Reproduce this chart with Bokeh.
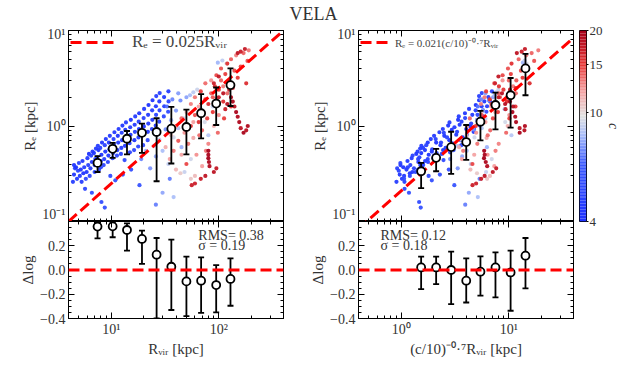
import numpy as np
from bokeh.plotting import figure
from bokeh.models import (LogAxis, LinearAxis, FixedTicker, LogColorMapper, Span,
                          Legend, LegendItem, ColumnDataSource, CustomJSTickFormatter)
from bokeh.layouts import column, row
from bokeh.embed import file_html
from bokeh.resources import INLINE
from bokeh.core.properties import value

FONT = "Liberation Serif"
TXT = "#333333"

# ---------------- data ----------------
# scatter points: (R_vir [kpc], R_e [kpc], concentration c)
blue_pts = [
    (4.4,0.26,4.6),(4.5,0.31,4.3),(4.6,0.36,4.8),(4.5,0.39,4.2),
    (4.8,0.28,4.4),(4.9,0.34,5.0),(4.7,0.37,4.1),
    (5.1,0.30,4.5),(5.2,0.35,4.3),(5.0,0.41,4.9),(5.3,0.26,4.7),
    (5.5,0.32,4.2),(5.6,0.37,4.6),(5.4,0.43,4.4),(5.7,0.22,5.2),
    (5.9,0.33,4.3),(6.1,0.39,4.8),(6.0,0.46,4.5),(6.2,0.51,4.1),(5.8,0.28,5.4),
    (6.4,0.36,4.6),(6.6,0.42,4.2),(6.5,0.49,4.9),(6.7,0.54,4.4),(6.3,0.30,5.1),(6.6,0.20,5.6),
    (7.0,0.39,4.3),(7.1,0.45,4.7),(6.9,0.52,4.1),(7.2,0.58,4.5),(7.0,0.33,5.0),
    (7.5,0.40,4.4),(7.4,0.47,4.8),(7.6,0.56,4.2),(7.5,0.62,4.6),(7.7,0.35,5.3),
    (8.0,0.43,4.5),(8.1,0.50,4.1),(7.9,0.59,4.7),(8.2,0.67,4.3),(8.0,0.37,5.0),(8.1,0.16,5.5),
    (8.6,0.45,4.6),(8.8,0.54,4.2),(8.7,0.63,4.9),(8.9,0.73,4.4),(8.5,0.39,5.2),(8.7,0.14,5.8),
    (9.4,0.49,4.3),(9.6,0.57,4.7),(9.5,0.67,4.1),(9.7,0.79,4.5),(9.3,0.42,5.1),(9.8,0.30,5.4),
    (10.4,0.52,4.6),(10.6,0.63,4.2),(10.5,0.73,4.8),(10.7,0.86,4.4),(10.3,0.46,5.0),(10.9,0.27,5.7),
    (11.4,0.56,4.3),(11.6,0.67,4.7),(11.5,0.79,4.2),(11.7,0.93,4.5),(11.3,0.49,5.2),
    (12.4,0.59,4.5),(12.6,0.71,4.1),(12.5,0.85,4.8),(12.7,1.01,4.3),(12.3,0.51,5.0),(12.8,0.31,5.6),
    (13.4,0.62,4.4),(13.6,0.76,4.9),(13.5,0.91,4.2),(13.7,1.09,4.6),(13.3,0.44,5.3),
    (14.8,0.66,4.7),(15.1,0.81,4.3),(15.0,0.97,4.5),(15.2,1.16,4.1),(14.9,0.53,5.1),(15.3,0.35,5.5),
    (16.4,0.71,4.2),(16.6,0.87,4.8),(16.5,1.03,4.4),(16.7,1.26,4.6),(16.3,0.56,5.2),
    (17.9,0.76,4.5),(18.1,0.93,4.1),(18.0,1.11,4.7),(18.2,1.36,4.3),(17.8,0.61,5.0),(18.3,0.24,6.0),
    (19.9,0.81,4.6),(20.1,0.99,4.2),(20.0,1.21,4.9),(20.2,1.51,4.4),(19.8,0.63,5.4),
    (21.9,0.87,4.3),(22.1,1.06,4.7),(22.0,1.31,4.5),(22.2,1.66,4.1),(21.8,0.71,5.3),
    (23.9,0.93,4.8),(24.1,1.16,4.4),(24.0,1.46,4.6),(24.2,1.86,4.2),
    (25.9,1.01,4.5),(26.1,1.31,4.9),(26.0,1.61,4.3),(26.2,2.06,4.7),
    (27.9,1.11,5.0),(28.1,1.46,4.6),(28.0,1.81,4.4),(28.2,2.21,4.8),
    (30.8,1.26,5.2),(31.1,1.61,4.7),(31.0,2.01,4.5),
    (33.8,1.41,5.4),(34.1,1.81,4.9),(34.0,2.31,4.6),
]
lightblue_pts = [
    (19,0.45,7.2),(21,0.55,8.0),(23,0.36,7.5),(25,0.62,8.6),(26,0.48,7.8),(28,0.72,9.0),
    (30,0.55,8.3),(32,0.92,7.4),(34,0.40,8.8),(36,1.15,7.9),(38,0.76,9.2),(40,1.45,7.6),
    (42,0.95,8.5),(44,1.85,7.3),(47,1.20,8.9),(50,2.00,7.7),(54,2.10,8.2),(58,2.25,8.7),
    (63,2.40,9.1),(68,1.50,8.4),(74,1.10,9.3),(80,0.80,8.6),(88,1.60,9.0),(98,4.60,8.1),
    (108,4.85,8.8),(118,4.50,9.4),(35,0.28,7.0),(30,0.20,7.8),(38,0.18,8.3),(26,0.15,7.1),
    (45,0.60,8.0),(55,0.45,9.2),(33,1.60,6.8),(37,1.90,7.2),(42,2.20,7.6),(48,0.33,9.0),
]
red_pts = [
    (32,0.60,11.5),(35,0.45,12.0),(36,0.80,10.8),(38,0.55,13.0),(40,0.35,11.2),(40,1.00,12.5),
    (42,0.70,14.0),(45,0.50,11.8),(45,1.20,13.5),(48,0.85,12.2),(50,0.40,14.5),(50,1.40,11.0),
    (52,0.65,13.2),(55,1.00,15.0),(55,1.70,12.8),(58,0.75,11.6),(60,1.30,14.2),(60,2.00,13.0),
    (62,0.50,12.4),(65,1.10,15.5),(65,1.60,11.9),(68,2.30,14.8),(70,0.90,13.6),(72,1.40,12.1),
    (75,1.90,15.2),(75,2.80,13.3),(78,1.20,14.6),(80,0.65,12.7),(80,1.70,15.8),(85,2.20,13.9),
    (85,3.00,12.3),(88,1.40,14.9),(90,1.00,11.4),(92,2.60,15.4),(95,1.90,13.1),(95,3.40,14.4),
    (100,1.30,12.6),(100,2.40,15.1),(105,3.00,13.7),(105,4.00,14.1),(110,1.80,15.6),(110,2.60,12.9),
    (115,3.50,14.7),(120,2.20,13.4),(120,4.50,15.3),(125,3.00,14.0),(130,5.00,13.8),(135,2.50,15.9),
    (140,3.80,14.3),(145,5.50,12.8),(150,3.20,15.0),(160,4.20,14.5),(170,5.80,13.6),(180,2.80,15.7),
    (185,4.80,14.2),(190,6.20,13.0),(60,0.30,11.0),(70,0.38,12.0),(55,0.28,10.6),(44,0.32,10.5),
    (66,0.80,13.5),(88,2.00,14.0),(130,1.60,15.2),(112,1.20,14.8),(76,0.55,13.0),(58,1.10,12.0),
    (98,0.85,13.5),
]
darkred_pts = [
    (130,2.00,18.5),(135,1.80,19.0),(140,1.60,18.2),(145,1.40,19.5),(150,1.25,18.8),(155,1.10,19.2),
    (160,0.95,18.0),(170,0.85,19.6),(180,0.90,18.4),(186,1.00,19.0),
    (80,0.55,19.8),(80,0.50,19.5),(80,0.46,19.9),(81,0.42,19.2),(82,0.38,18.7),(90,0.33,18.0),
    (95,0.36,17.5),(75,0.30,17.8),(68,0.28,17.2),(60,0.25,16.8),(56,0.24,17.0),
    (100,2.00,17.5),(110,2.20,18.1),(115,1.50,17.3),(120,1.70,18.6),(125,2.40,17.0),(90,2.80,16.8),
    (100,3.30,17.6),(160,6.00,16.9),(175,6.40,17.4),(150,5.80,17.9),
]

# binned medians, left panel (R_vir)
l_bin_x = [7.45, 10.3, 14.0, 19.3, 26.4, 36.2, 50.0, 68.5, 94.6, 128.5]
l_med = [0.411, 0.577, 0.735, 0.849, 0.865, 0.937, 0.976, 1.36, 1.717, 2.68]
l_lo = [0.330, 0.464, 0.504, 0.524, 0.264, 0.405, 0.504, 0.743, 1.024, 1.62]
l_hi = [0.483, 0.667, 0.886, 1.057, 1.205, 1.585, 1.485, 2.157, 2.53, 4.01]
l_res = [0.358, 0.36, 0.33, 0.256, 0.126, 0.027, -0.094, -0.088, -0.124, -0.074]
l_res_lo = [0.261, 0.27, 0.16, 0.05, -0.40, -0.33, -0.38, -0.353, -0.35, -0.295]
l_res_hi = [0.393, 0.39, 0.385, 0.325, 0.264, 0.25, 0.11, 0.104, 0.041, 0.096]

# binned medians, right panel ((c/10)^-0.7 R_vir)
r_bin_x = [1.53, 2.11, 2.91, 4.02, 5.45, 7.52, 10.4, 14.3]
r_med = [0.336, 0.464, 0.601, 0.679, 1.11, 1.66, 2.10, 4.01]
r_lo = [0.224, 0.336, 0.315, 0.442, 0.707, 0.923, 0.96, 2.10]
r_hi = [0.411, 0.577, 0.871, 1.024, 1.44, 2.24, 3.18, 5.69]
r_res = [0.021, 0.021, 0.0, -0.088, -0.014, 0.021, -0.02, 0.118]
r_res_lo = [-0.157, -0.116, -0.281, -0.268, -0.212, -0.226, -0.336, -0.152]
r_res_hi = [0.11, 0.11, 0.151, 0.096, 0.112, 0.146, 0.16, 0.264]

left_coef = 0.025    # R_e = 0.025 R_vir
right_coef = 0.21    # line drawn in the right panel
scale_k = left_coef / right_coef
c_norm, c_slope = 10.0, -0.7

stats_left = ["RMS= 0.38", "\u03c3 = 0.19"]
stats_right = ["RMS= 0.12", "\u03c3 = 0.18"]
cbar_ticks = [4, 10, 15, 20]
c_low, c_high = 4, 20

# tick positions
x_left_major = [10, 100]
x_left_minor = [4, 5, 6, 7, 8, 9, 20, 30, 40, 50, 60, 70, 80, 90, 200, 300, 400]
x_right_major = [1, 10]
x_right_minor = [0.4, 0.5, 0.6, 0.7, 0.8, 0.9, 2, 3, 4, 5, 6, 7, 8, 9, 20, 30, 40]
y_log_major = [0.1, 1, 10]
y_log_minor = [0.2, 0.3, 0.4, 0.5, 0.6, 0.7, 0.8, 0.9, 2, 3, 4, 5, 6, 7, 8, 9]
res_major = [-0.4, -0.2, 0.0, 0.2, 0.4]
res_minor = [-0.35, -0.3, -0.25, -0.15, -0.1, -0.05, 0.05, 0.1, 0.15, 0.25, 0.3, 0.35]

# ---------------- colour map ----------------
anchors = [(0.0, (30, 50, 255)), (0.3, (60, 90, 255)), (0.45, (170, 190, 250)),
           (0.55, (226, 226, 226)), (0.68, (245, 160, 160)), (0.82, (232, 55, 55)),
           (1.0, (165, 0, 25))]
palette = []
for i in range(256):
    t = i / 255
    for (t0, c0), (t1, c1) in zip(anchors[:-1], anchors[1:]):
        if t0 <= t <= t1:
            f = (t - t0) / (t1 - t0)
            rgb = [int(round(a + (b - a) * f)) for a, b in zip(c0, c1)]
            palette.append("#%02x%02x%02x" % tuple(rgb))
            break
mapper = LogColorMapper(palette=palette, low=c_low, high=c_high)

all_pts = blue_pts + lightblue_pts + red_pts + darkred_pts
sc_rvir = [p[0] for p in all_pts]
sc_re = [p[1] for p in all_pts]
sc_c = [p[2] for p in all_pts]
sc_scaled = [r * scale_k * (c / c_norm) ** c_slope for r, c in zip(sc_rvir, sc_c)]
src = ColumnDataSource(dict(rvir=sc_rvir, re=sc_re, c=sc_c, xs=sc_scaled))

log_fmt = CustomJSTickFormatter(code="""
const e = Math.round(Math.log10(tick));
const m = {'-':'\u207b','0':'\u2070','1':'\u00b9','2':'\u00b2','3':'\u00b3'};
return '10' + String(e).split('').map(ch => m[ch]).join('');
""")
lin_fmt = CustomJSTickFormatter(code="""
if (tick > 0.3) { return ''; }
const s = Math.abs(tick).toFixed(1);
return (tick < -1e-9 ? '\u2212' : '') + s;
""")


def blank_fmt():
    return CustomJSTickFormatter(code="return '';")


def style_axis(ax, labels=True):
    ax.axis_line_color = "black"
    ax.major_tick_in = 6
    ax.major_tick_out = 0
    ax.minor_tick_in = 3
    ax.minor_tick_out = 0
    ax.major_tick_line_color = "black"
    ax.minor_tick_line_color = "black"
    ax.major_label_text_font = FONT
    ax.major_label_text_color = TXT
    ax.axis_label_text_font = FONT
    ax.axis_label_text_font_style = "normal"
    ax.axis_label_text_font_size = "15px"
    ax.axis_label_text_color = TXT
    ax.axis_label_standoff = 1
    if labels:
        ax.major_label_text_font_size = "14px"
        ax.major_label_standoff = 3
    else:
        ax.formatter = blank_fmt()
        ax.major_label_text_font_size = "1px"
        ax.major_label_standoff = 0


def base_fig(fw, fh, xr, yr, ylog, bl, br, bt, bb):
    p = figure(frame_width=fw, frame_height=fh, x_axis_type="log",
               y_axis_type="log" if ylog else "linear",
               x_range=xr, y_range=yr, output_backend="svg", toolbar_location=None,
               min_border_left=bl, min_border_right=br, min_border_top=bt, min_border_bottom=bb)
    p.grid.visible = False
    p.outline_line_color = "black"
    p.outline_line_width = 1
    p.background_fill_color = "white"
    p.border_fill_color = "white"
    return p


def draw_errs(p, xs, ys, lo, hi):
    p.segment(x0=xs, y0=lo, x1=xs, y1=hi, line_color="black", line_width=1.8)
    p.scatter(x=xs + xs, y=lo + hi, marker="dash", size=6, line_color="black", line_width=1.8)
    p.scatter(x=xs, y=ys, marker="circle", size=8, fill_color="white",
              line_color="black", line_width=1.8)


def setup_panel(p, xmaj, xmin, ymaj, ymin, ylog, xlabel, ylabel):
    ax = p.below[0]
    ay = p.left[0]
    ax.ticker = FixedTicker(ticks=xmaj, minor_ticks=xmin)
    style_axis(ax, labels=xlabel is not None)
    if xlabel is not None:
        ax.formatter = log_fmt
        ax.axis_label = xlabel
    ay.ticker = FixedTicker(ticks=ymaj, minor_ticks=ymin)
    style_axis(ay)
    ay.formatter = log_fmt if ylog else lin_fmt
    ay.axis_label = ylabel
    top = LogAxis(ticker=FixedTicker(ticks=xmaj, minor_ticks=xmin))
    style_axis(top, labels=False)
    p.add_layout(top, "above")
    right = (LogAxis if ylog else LinearAxis)(ticker=FixedTicker(ticks=ymaj, minor_ticks=ymin))
    style_axis(right, labels=False)
    p.add_layout(right, "right")


FW, FH_TOP, FH_BOT = 215, 191, 97
TH = 26
BT, BB = 4, 38
RE_LABEL = "R\u2091 [kpc]"
DL_LABEL = "\u0394log"
PT_SIZE, PT_ALPHA = 4.2, 0.95

# ---------------- top-left ----------------
p1 = base_fig(FW, FH_TOP, (4, 400), (0.1, 10), True, 68, 15, BT, 0)
setup_panel(p1, x_left_major, x_left_minor, y_log_major, y_log_minor, True, None, RE_LABEL)
p1.scatter(x="rvir", y="re", source=src, size=PT_SIZE, line_color=None, fill_alpha=PT_ALPHA,
           fill_color={"field": "c", "transform": mapper})
lx = [4, 400]
l1 = p1.line(x=lx, y=[left_coef * v for v in lx], line_color="red", line_width=3, line_dash="11 5")
draw_errs(p1, l_bin_x, l_med, l_lo, l_hi)
leg1 = Legend(items=[LegendItem(label="R\u2091 = 0.025R\u1d65\u1d62\u1d63", renderers=[l1])],
              location="top_left", border_line_color=None, background_fill_alpha=0,
              label_text_font=FONT, label_text_font_size="17px", glyph_width=46,
              label_standoff=16, margin=2, padding=10)
p1.add_layout(leg1)

# ---------------- bottom-left ----------------
p2 = base_fig(FW, FH_BOT, (4, 400), (-0.4, 0.4), False, 68, 15, 0, BB)
setup_panel(p2, x_left_major, x_left_minor, res_major, res_minor, False,
            "R\u1d65\u1d62\u1d63 [kpc]", DL_LABEL)
p2.add_layout(Span(location=0, dimension="width", line_color="red", line_width=3, line_dash="11 5"))
draw_errs(p2, l_bin_x, l_res, l_res_lo, l_res_hi)
p2.text(x=[64.5, 64.5], y=[0.285, 0.205], text=stats_left, text_font=value(FONT),
        text_font_size="14px", text_color=TXT, text_baseline="middle", text_align="left")

# ---------------- top-right ----------------
p3 = base_fig(FW, FH_TOP, (0.4, 40), (0.1, 10), True, 60, 6, BT, 0)
setup_panel(p3, x_right_major, x_right_minor, y_log_major, y_log_minor, True, None, RE_LABEL)
p3.scatter(x="xs", y="re", source=src, size=PT_SIZE, line_color=None, fill_alpha=PT_ALPHA,
           fill_color={"field": "c", "transform": mapper})
rx = [0.4, 40]
l3 = p3.line(x=rx, y=[right_coef * v for v in rx], line_color="red", line_width=3, line_dash="11 5")
draw_errs(p3, r_bin_x, r_med, r_lo, r_hi)
leg3 = Legend(items=[LegendItem(label="R\u2091 = 0.021(c/10)\u207b\u2070\u00b7\u2077R\u1d65\u1d62\u1d63",
                                renderers=[l3])],
              location="top_left", border_line_color=None, background_fill_alpha=0,
              label_text_font=FONT, label_text_font_size="11px", glyph_width=30,
              label_standoff=5, margin=2, padding=8)
p3.add_layout(leg3)

# ---------------- bottom-right ----------------
p4 = base_fig(FW, FH_BOT, (0.4, 40), (-0.4, 0.4), False, 60, 6, 0, BB)
setup_panel(p4, x_right_major, x_right_minor, res_major, res_minor, False,
            "(c/10)\u207b\u2070\u00b7\u2077R\u1d65\u1d62\u1d63 [kpc]", DL_LABEL)
p4.add_layout(Span(location=0, dimension="width", line_color="red", line_width=3, line_dash="11 5"))
draw_errs(p4, r_bin_x, r_res, r_res_lo, r_res_hi)
p4.text(x=[0.64, 0.64], y=[0.285, 0.205], text=stats_right, text_font=value(FONT),
        text_font_size="14px", text_color=TXT, text_baseline="middle", text_align="left")

# ---------------- colour bar (its own narrow figure) ----------------
pc = figure(frame_width=7, frame_height=FH_TOP, x_range=(0, 1), y_range=(c_low, c_high),
            y_axis_type="log", y_axis_location="right", output_backend="svg",
            toolbar_location=None, min_border_left=0, min_border_right=0,
            min_border_top=TH + BT, min_border_bottom=FH_BOT + BB)
pc.grid.visible = False
pc.xaxis.visible = False
pc.outline_line_color = "black"
pc.border_fill_color = "white"
n_steps = 128
edges = [c_low * (c_high / c_low) ** (i / n_steps) for i in range(n_steps + 1)]
pc.quad(left=0, right=1, bottom=edges[:-1], top=edges[1:],
        fill_color=[palette[min(255, int(255 * i / (n_steps - 1)))] for i in range(n_steps)],
        line_color=None)
cax = pc.right[0]
cax.ticker = FixedTicker(ticks=cbar_ticks, minor_ticks=[])
cax.formatter = CustomJSTickFormatter(code="return String(Math.round(tick));")
cax.axis_line_color = None
cax.major_tick_in = 0
cax.major_tick_out = 2
cax.major_tick_line_color = "black"
cax.minor_tick_line_color = None
cax.major_label_standoff = 1
cax.major_label_text_font = FONT
cax.major_label_text_font_size = "13px"
cax.major_label_text_color = TXT
cax.axis_label = "c"
cax.axis_label_text_font = FONT
cax.axis_label_text_font_style = "italic"
cax.axis_label_text_font_size = "14px"
cax.axis_label_text_color = TXT
cax.axis_label_standoff = 0

# ---------------- title ----------------
TW = 298 + 281
pt = figure(width=TW, height=TH, x_range=(0, 1), y_range=(0, 1), output_backend="svg",
            toolbar_location=None, min_border=0)
pt.axis.visible = False
pt.grid.visible = False
pt.outline_line_color = None
pt.text(x=[313 / TW], y=[0.47], text=["VELA"], text_font=value(FONT),
        text_font_size="18px", text_color=TXT, text_align="center", text_baseline="middle")

layout = row(column(pt, row(column(p1, p2), column(p3, p4))), pc)
open("out.html", "w").write(file_html(layout, INLINE))
